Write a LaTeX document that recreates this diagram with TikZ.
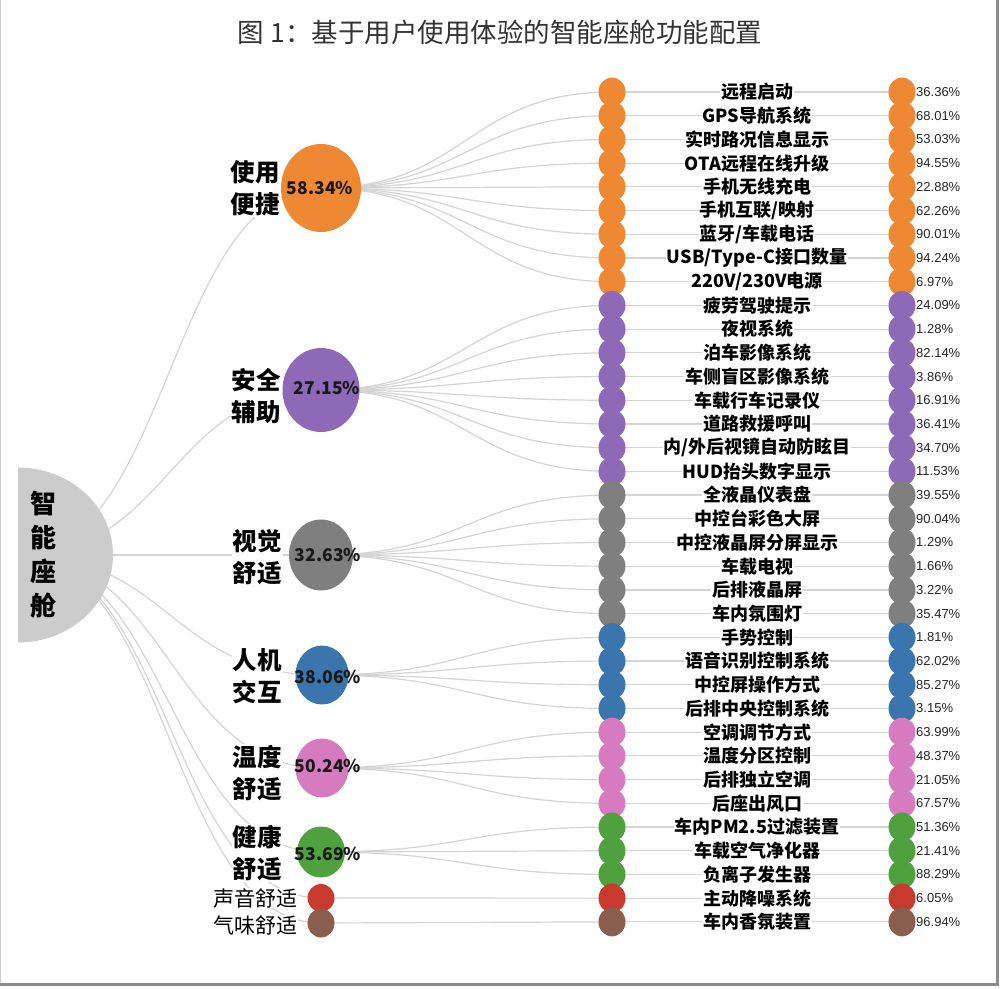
\documentclass[tikz,border=0pt]{standalone}
\usepackage{fontspec}
\setmainfont{Noto Sans CJK SC}
\newfontfamily\pctfont{Liberation Sans}
\usetikzlibrary{shapes.geometric,backgrounds}

\definecolor{cOrange}{HTML}{EE8833}
\definecolor{cPurple}{HTML}{8E69B8}
\definecolor{cGray}{HTML}{7F7F7F}
\definecolor{cBlue}{HTML}{3A75AE}
\definecolor{cPink}{HTML}{D67BBF}
\definecolor{cGreen}{HTML}{4FA03F}
\definecolor{cRed}{HTML}{C8392E}
\definecolor{cBrown}{HTML}{8A5D51}
\definecolor{rootgray}{HTML}{CCCCCC}
\definecolor{linkgray}{HTML}{D4D4D4}
\definecolor{framegray}{HTML}{8C8C8C}

\tikzset{
  link/.style={draw=linkgray, line width=1.2pt},
  leafdot/.style={ellipse, fill=#1, minimum width=27pt, minimum height=29pt, inner sep=0pt},
  leaflabel/.style={font=\bfseries\fontsize{18}{18}\selectfont, fill=white, inner sep=0.6pt},
  pct/.style={anchor=west, font=\pctfont\fontsize{13}{13}\selectfont, text=black!85, inner sep=0pt},
  midball/.style={ellipse, fill=#1, inner sep=0pt},
  midpct/.style={font=\bfseries\fontsize{17.5}{17.5}\selectfont, text=black!90, inner sep=0pt},
  midlabel/.style={anchor=east, align=center, font=\bfseries\fontsize{24.5}{32}\selectfont, fill=white, inner sep=1pt},
  smalllabel/.style={anchor=east, font=\fontsize{21}{21}\selectfont, fill=white, inner sep=0.5pt}
}

\begin{document}
\begin{tikzpicture}[x=1pt,y=-1pt]
\useasboundingbox (0,0) rectangle (1000,988);

% frame
\draw[gray!40, line width=1pt] (0.8,0) -- (0.8,984);
\draw[framegray, line width=2.5pt] (0,984.5) -- (997.5,984.5) -- (997.5,0);

\node[font=\fontsize{26.5}{26.5}\selectfont, text=black!80] (title) at (500,32) {图 1：基于用户使用体验的智能座舱功能配置};

% root
\begin{scope}
  \clip (18,0) rectangle (1000,988);
  \node[ellipse, fill=rootgray, minimum width=190pt, minimum height=175pt] (root) at (18,555) {};
\end{scope}
\node[align=center, font=\bfseries\fontsize{26}{34}\selectfont] (root-t) at (43,555) {智\\能\\座\\舱};

% second level
\node[midball=cOrange, minimum width=80pt, minimum height=88pt] (use) at (321,188) {};
\node[midball=cPurple, minimum width=77pt, minimum height=84pt] (safe) at (321,390) {};
\node[midball=cGray, minimum width=64pt, minimum height=71pt] (view) at (321,555) {};
\node[midball=cBlue, minimum width=53pt, minimum height=59pt] (hmi) at (322,675) {};
\node[midball=cPink, minimum width=53pt, minimum height=59pt] (temp) at (322,768) {};
\node[midball=cGreen, minimum width=48pt, minimum height=51pt] (health) at (321,852) {};
\node[midball=cRed, minimum width=27pt, minimum height=28pt] (sound) at (321,898) {};
\node[midball=cBrown, minimum width=27pt, minimum height=29pt] (smell) at (321,923) {};

\node[midpct] (use-v) at (320,188) {58.34\%};
\node[midpct] (safe-v) at (327,388) {27.15\%};
\node[midpct] (view-v) at (328,555) {32.63\%};
\node[midpct] (hmi-v) at (328,677) {38.06\%};
\node[midpct] (temp-v) at (328,766) {50.24\%};
\node[midpct] (health-v) at (328,854) {53.69\%};

\node[midlabel] (use-t) at (281,188) {使用\\便捷};
\node[midlabel] (safe-t) at (282,396) {安全\\辅助};
\node[midlabel] (view-t) at (283,557) {视觉\\舒适};
\node[midlabel] (hmi-t) at (283,676) {人机\\交互};
\node[midlabel] (temp-t) at (283,773) {温度\\舒适};
\node[midlabel] (health-t) at (283,853) {健康\\舒适};
\node[smalllabel] (sound-t) at (298,898) {声音舒适};
\node[smalllabel] (smell-t) at (298,925) {气味舒适};

% leaves
\foreach \i/\m/\c/\t/\v [evaluate=\i as \y using 92+(\i-1)*23.71] in {
  1/use/cOrange/远程启动/36.36, 2/use/cOrange/GPS导航系统/68.01,
  3/use/cOrange/实时路况信息显示/53.03, 4/use/cOrange/OTA远程在线升级/94.55,
  5/use/cOrange/手机无线充电/22.88, 6/use/cOrange/{手机互联/映射}/62.26,
  7/use/cOrange/{蓝牙/车载电话}/90.01, 8/use/cOrange/{USB/Type-C接口数量}/94.24,
  9/use/cOrange/{220V/230V电源}/6.97,
  10/safe/cPurple/疲劳驾驶提示/24.09, 11/safe/cPurple/夜视系统/1.28,
  12/safe/cPurple/泊车影像系统/82.14, 13/safe/cPurple/车侧盲区影像系统/3.86,
  14/safe/cPurple/车载行车记录仪/16.91, 15/safe/cPurple/道路救援呼叫/36.41,
  16/safe/cPurple/{内/外后视镜自动防眩目}/34.70, 17/safe/cPurple/HUD抬头数字显示/11.53,
  18/view/cGray/全液晶仪表盘/39.55, 19/view/cGray/中控台彩色大屏/90.04,
  20/view/cGray/中控液晶屏分屏显示/1.29, 21/view/cGray/车载电视/1.66,
  22/view/cGray/后排液晶屏/3.22, 23/view/cGray/车内氛围灯/35.47,
  24/hmi/cBlue/手势控制/1.81, 25/hmi/cBlue/语音识别控制系统/62.02,
  26/hmi/cBlue/中控屏操作方式/85.27, 27/hmi/cBlue/后排中央控制系统/3.15,
  28/temp/cPink/空调调节方式/63.99, 29/temp/cPink/温度分区控制/48.37,
  30/temp/cPink/后排独立空调/21.05, 31/temp/cPink/后座出风口/67.57,
  32/health/cGreen/车内PM2.5过滤装置/51.36, 33/health/cGreen/车载空气净化器/21.41,
  34/health/cGreen/负离子发生器/88.29,
  35/sound/cRed/主动降噪系统/6.05,
  36/smell/cBrown/车内香氛装置/96.94} {
  \node[leafdot=\c] (l\i) at (612,\y) {};
  \node[leafdot=\c] (r\i) at (902,\y) {};
  \node[leaflabel] (t\i) at (757,\y) {\t};
  \node[pct] (p\i) at (916,\y) {\v\%};
  \begin{scope}[on background layer]
    \draw[link] (\m.center) .. controls +(145.5,0) and +(-145.5,0) .. (l\i.center);
    \draw[link] (l\i.center) -- (r\i.center);
  \end{scope}
}

% links from the root
\begin{scope}[on background layer]
  \foreach \m in {use,safe,view,hmi,temp,health,sound,smell}
    \draw[link] (root.center) .. controls +(151.5,0) and +(-151.5,0) .. (\m.center);
\end{scope}
\end{tikzpicture}
\end{document}
